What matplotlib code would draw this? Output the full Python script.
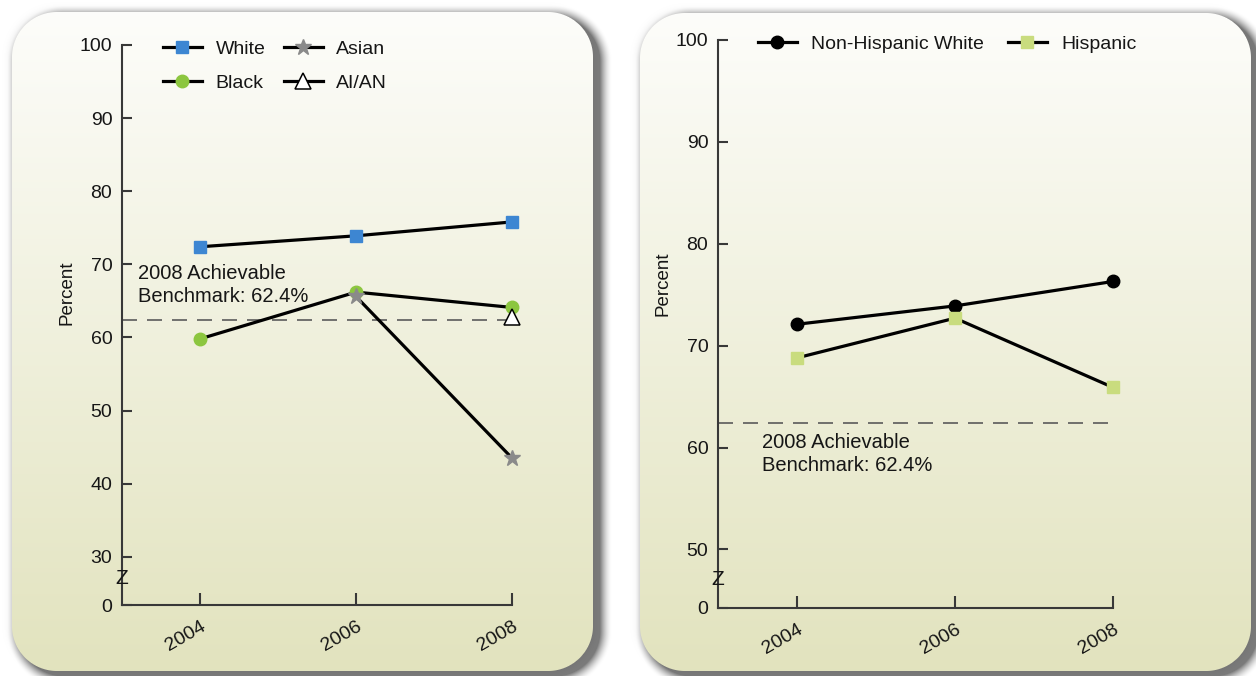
import numpy as np
import matplotlib
matplotlib.use("Agg")
import matplotlib.pyplot as plt
from matplotlib.lines import Line2D

# ---------------- data ----------------
years = [2004, 2006, 2008]
year_labels = ["2004", "2006", "2008"]

# left panel: race
white = [72.4, 73.9, 75.8]
black = [59.8, 66.2, 64.1]
asian_years = [2006, 2008]
asian = [65.6, 43.5]
aian_years = [2008]
aian = [62.8]

# right panel: ethnicity
nh_white = [72.1, 73.9, 76.3]
hispanic = [68.8, 72.7, 65.9]

benchmark = 62.4
benchmark_text = "2008 Achievable\nBenchmark: 62.4%"

left_ticks = [30, 40, 50, 60, 70, 80, 90, 100]
right_ticks = [50, 60, 70, 80, 90, 100]

# ---------------- style ----------------
W, H = 1256, 676
FONT = ["Liberation Sans", "DejaVu Sans"]
plt.rcParams["font.family"] = FONT
TXT = "#161616"
AXC = "#383838"
BLUE = "#3d86d2"
GREEN = "#8cc63f"
GREY = "#8a8a8a"
LIGHTGREEN = "#c9dc7e"
LW = 2.3

fig = plt.figure(figsize=(W / 100, H / 100), dpi=100)

# ---------------- rounded panels with soft shadow ----------------
yy, xx = np.mgrid[0:H, 0:W] + 0.5


def rrect_sdf(x0, y0, x1, y1, r, dx=0.0, dy=0.0):
    cx, cy = (x0 + x1) / 2 + dx, (y0 + y1) / 2 + dy
    hx, hy = (x1 - x0) / 2, (y1 - y0) / 2
    qx = np.abs(xx - cx) - (hx - r)
    qy = np.abs(yy - cy) - (hy - r)
    out = np.hypot(np.maximum(qx, 0), np.maximum(qy, 0))
    ins = np.minimum(np.maximum(qx, qy), 0)
    return out + ins - r


img = np.ones((H, W, 3))
panels = [(12, 12, 593, 671, 45), (640, 13, 1251, 671, 45)]
top_col = np.array([0.992, 0.992, 0.982])
bot_col = np.array([0.886, 0.890, 0.745])

for (x0, y0, x1, y1, r) in panels:
    # faint halo
    d = rrect_sdf(x0, y0, x1, y1, r)
    a = 0.10 * np.clip(1 - d / 10, 0, 1) ** 2
    img = img * (1 - a[..., None]) + 0.3 * a[..., None]
    # offset drop shadow
    d = rrect_sdf(x0, y0, x1, y1, r, dx=7, dy=5)
    a = 0.68 * np.clip(1 - d / 12, 0, 1) ** 1.7
    img = img * (1 - a[..., None]) + 0.24 * a[..., None]

for (x0, y0, x1, y1, r) in panels:
    d = rrect_sdf(x0, y0, x1, y1, r)
    a = np.clip(0.5 - d, 0, 1)[..., None]
    t = np.clip((yy - y0) / (y1 - y0), 0, 1)[..., None]
    col = top_col * (1 - t) + bot_col * t
    img = img * (1 - a) + col * a

ax_bg = fig.add_axes([0, 0, 1, 1])
ax_bg.imshow(img, extent=(0, W, H, 0), interpolation="bilinear")
ax_bg.set_xlim(0, W)
ax_bg.set_ylim(H, 0)
ax_bg.axis("off")


# ---------------- chart axes ----------------
def px_axes(x0, ytop, x1, ybot):
    return fig.add_axes([x0 / W, 1 - ybot / H, (x1 - x0) / W, (ybot - ytop) / H])


def style_axes(ax, ticks, zero_pos, z_pos):
    ax.set_facecolor("none")
    for s in ("top", "right"):
        ax.spines[s].set_visible(False)
    for s in ("left", "bottom"):
        ax.spines[s].set_color(AXC)
        ax.spines[s].set_linewidth(1.5)
    ax.set_xlim(2003, 2008)
    ax.set_ylim(zero_pos, 100)
    ax.set_yticks([zero_pos] + ticks, ["0"] + [str(t) for t in ticks])
    ax.set_xticks(years, year_labels)
    ax.tick_params(direction="in", width=1.5, color=AXC,
                   labelsize=14, labelcolor=TXT)
    ax.tick_params(axis="y", length=7, pad=7)
    ax.tick_params(axis="x", length=9, pad=9)
    for lab in ax.get_xticklabels():
        lab.set_rotation(30)
        lab.set_ha("right")
        lab.set_rotation_mode("anchor")
    ax.text(2003, z_pos, "Z", ha="center", va="center", fontsize=15,
            color=TXT, clip_on=False)
    ax.hlines(benchmark, 2003, 2008, colors="#5a5a5a", linewidth=1.2,
              linestyles=(0, (9, 6)), zorder=2)


# left panel
axL = px_axes(122, 45, 512, 605)
style_axes(axL, left_ticks, 23.4, 27.0)
axL.plot(years, white, color="black", lw=LW, marker="s", ms=8.5,
         mfc=BLUE, mec=BLUE, zorder=3, clip_on=False)
axL.plot(years, black, color="black", lw=LW, marker="o", ms=9,
         mfc=GREEN, mec=GREEN, zorder=3, clip_on=False)
axL.plot(asian_years, asian, color="black", lw=LW, marker="*", ms=12,
         mfc=GREY, mec=GREY, zorder=4, clip_on=False)
axL.plot(aian_years, aian, color="black", lw=LW, marker="^", ms=12,
         mfc="white", mec="black", mew=1.1, zorder=5, clip_on=False)

# right panel
axR = px_axes(718, 40, 1113, 608)
style_axes(axR, right_ticks, 44.25, 47.0)
axR.plot(years, nh_white, color="black", lw=LW, marker="o", ms=9,
         mfc="black", mec="black", zorder=3, clip_on=False)
axR.plot(years, hispanic, color="black", lw=LW, marker="s", ms=9,
         mfc=LIGHTGREEN, mec=LIGHTGREEN, zorder=4, clip_on=False)

# benchmark annotations and axis titles
ax_bg.text(138, 285, benchmark_text, ha="left", va="center", fontsize=14.5,
           color=TXT, linespacing=1.3)
ax_bg.text(762, 454, benchmark_text, ha="left", va="center", fontsize=14.5,
           color=TXT, linespacing=1.3)
ax_bg.text(67, 293, "Percent", rotation=90, ha="center", va="center",
           fontsize=13.5, color=TXT)
ax_bg.text(663, 284, "Percent", rotation=90, ha="center", va="center",
           fontsize=13.5, color=TXT)

# legends
legL_handles = [
    Line2D([], [], color="black", lw=LW, marker="s", ms=8.5, mfc=BLUE, mec=BLUE),
    Line2D([], [], color="black", lw=LW, marker="o", ms=9, mfc=GREEN, mec=GREEN),
    Line2D([], [], color="black", lw=LW, marker="*", ms=12, mfc=GREY, mec=GREY),
    Line2D([], [], color="black", lw=LW, marker="^", ms=12, mfc="white",
           mec="black", mew=1.1),
]
legL_labels = ["White", "Black", "Asian", "AI/AN"]
fig.legend(legL_handles, legL_labels, ncol=2, loc="upper left",
           bbox_to_anchor=(163 / W, 1 - 40 / H), frameon=False, fontsize=14,
           handlelength=2.0, handletextpad=0.7, columnspacing=0.95,
           labelspacing=0.85, borderpad=0, borderaxespad=0, labelcolor=TXT)

legR_handles = [
    Line2D([], [], color="black", lw=LW, marker="o", ms=9, mfc="black", mec="black"),
    Line2D([], [], color="black", lw=LW, marker="s", ms=9, mfc=LIGHTGREEN,
           mec=LIGHTGREEN),
]
legR_labels = ["Non-Hispanic White", "Hispanic"]
fig.legend(legR_handles, legR_labels, ncol=2, loc="upper left",
           bbox_to_anchor=(758 / W, 1 - 35 / H), frameon=False, fontsize=14,
           handlelength=2.0, handletextpad=0.75, columnspacing=1.2,
           borderpad=0, borderaxespad=0, labelcolor=TXT)

fig.savefig("out.png", dpi=100)
